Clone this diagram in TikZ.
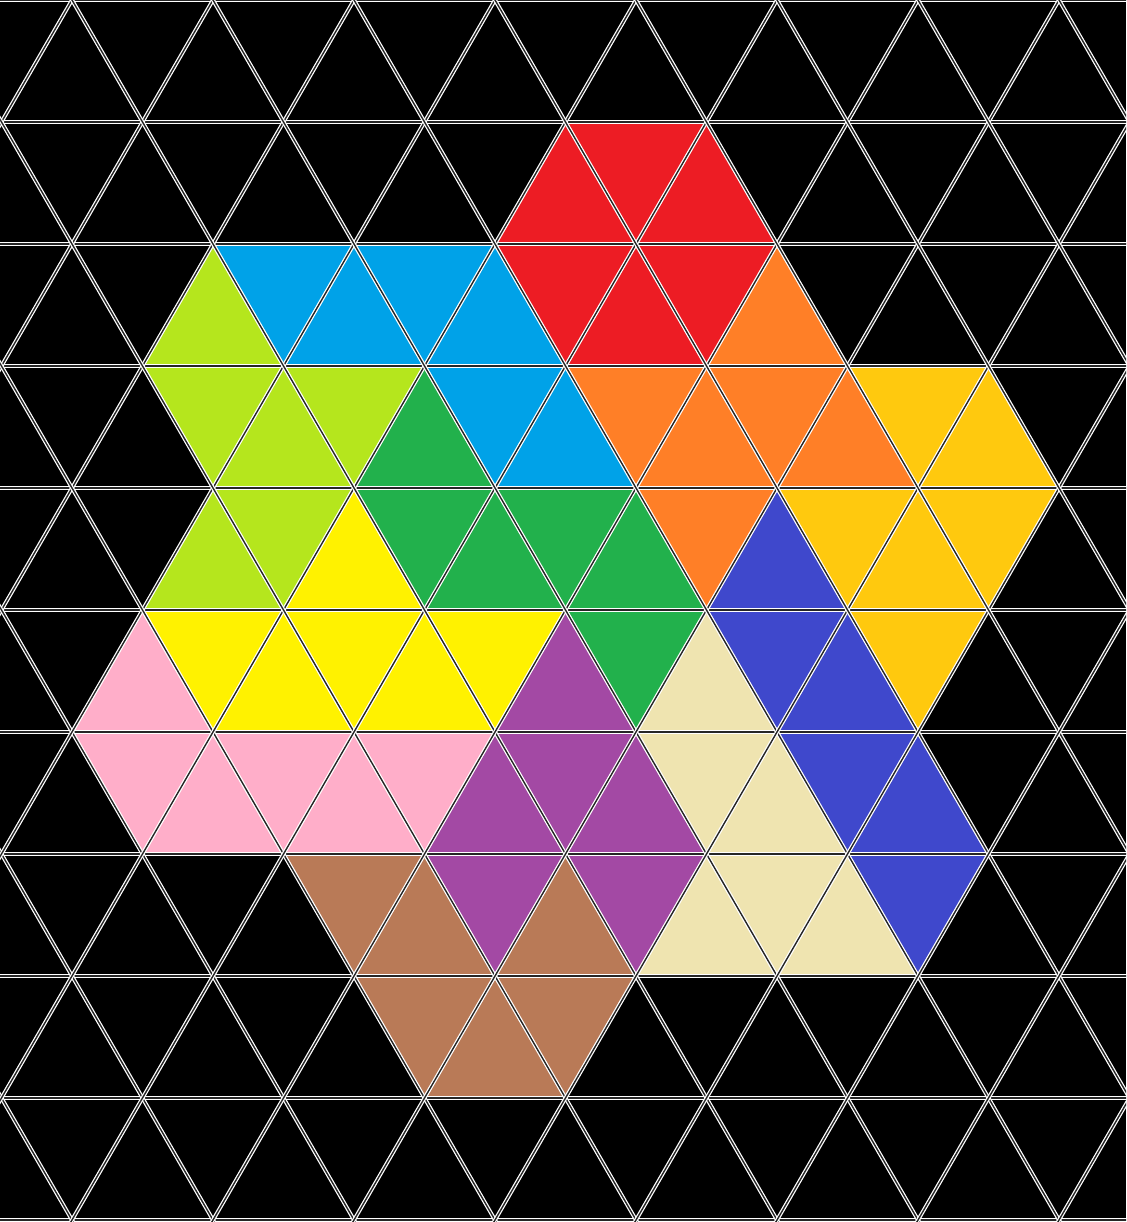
\documentclass[tikz,border=0pt]{standalone}
\usepackage{xcolor}
\definecolor{paintred}{RGB}{237,28,36}
\definecolor{paintorange}{RGB}{255,127,39}
\definecolor{paintgold}{RGB}{255,201,14}
\definecolor{paintyellow}{RGB}{255,242,0}
\definecolor{paintlime}{RGB}{181,230,29}
\definecolor{paintgreen}{RGB}{34,177,76}
\definecolor{paintblue}{RGB}{0,162,232}
\definecolor{paintindigo}{RGB}{63,72,204}
\definecolor{paintpurple}{RGB}{163,73,164}
\definecolor{paintpink}{RGB}{255,174,201}
\definecolor{paintcream}{RGB}{239,228,176}
\definecolor{paintbrown}{RGB}{185,122,87}
\usepackage{tikz}

%% one cell of the triangular grid: colour, row, left column
\newcommand{\paintcell}[3]{%
  \pgfmathtruncatemacro{\cellup}{1-mod(#2+#3,2)}%
  \fill[#1] (#3,{#2+\cellup}) -- ({#3+2},{#2+\cellup})
    -- ({#3+1},{#2+1-\cellup}) -- cycle;}

\tikzset{
  gridline/.style={white, line width=0.35pt, double=black!85, double distance=0.4pt}
}

\begin{document}
\begin{tikzpicture}

  %% Background
  \useasboundingbox (0,0) rectangle (11.26,-12.22);
  \clip (0,0) rectangle (11.26,-12.22);
  \fill[black] (0,0) rectangle (11.26,-12.22);

  \begin{scope}[x=0.705cm, y=-1.22cm, xshift=0.015cm]

    %% Red
    \foreach \row/\col in {1/7,1/8,1/9,2/7,2/8,2/9}
      {\paintcell{paintred}{\row}{\col}}
    %% Blue
    \foreach \row/\col in {2/3,2/4,2/5,2/6,3/6,3/7}
      {\paintcell{paintblue}{\row}{\col}}
    %% Lime
    \foreach \row/\col in {2/2,3/2,3/3,3/4,4/2,4/3}
      {\paintcell{paintlime}{\row}{\col}}
    %% Orange
    \foreach \row/\col in {2/10,3/8,3/9,3/10,3/11,4/9}
      {\paintcell{paintorange}{\row}{\col}}
    %% Gold
    \foreach \row/\col in {3/12,3/13,4/11,4/12,4/13,5/12}
      {\paintcell{paintgold}{\row}{\col}}
    %% Green
    \foreach \row/\col in {3/5,4/5,4/6,4/7,4/8,5/8}
      {\paintcell{paintgreen}{\row}{\col}}
    %% Yellow
    \foreach \row/\col in {4/4,5/2,5/3,5/4,5/5,5/6}
      {\paintcell{paintyellow}{\row}{\col}}
    %% Indigo
    \foreach \row/\col in {4/10,5/10,5/11,6/11,6/12,7/12}
      {\paintcell{paintindigo}{\row}{\col}}
    %% Pink
    \foreach \row/\col in {5/1,6/1,6/2,6/3,6/4,6/5}
      {\paintcell{paintpink}{\row}{\col}}
    %% Purple
    \foreach \row/\col in {5/7,6/6,6/7,6/8,7/6,7/8}
      {\paintcell{paintpurple}{\row}{\col}}
    %% Cream
    \foreach \row/\col in {5/9,6/9,6/10,7/9,7/10,7/11}
      {\paintcell{paintcream}{\row}{\col}}
    %% Brown
    \foreach \row/\col in {7/4,7/5,7/7,8/5,8/6,8/7}
      {\paintcell{paintbrown}{\row}{\col}}

    %% Grid lines
    \foreach \j in {0,...,10}
      \draw[gridline] (-1,\j) -- (17,\j);
    \foreach \u in {-11,-9,...,17} {
      \draw[gridline] ({\u-1},11) -- ({\u+11},-1);
      \draw[gridline] ({\u-1},-1) -- ({\u+11},11);
    }

  \end{scope}

\end{tikzpicture}
\end{document}
